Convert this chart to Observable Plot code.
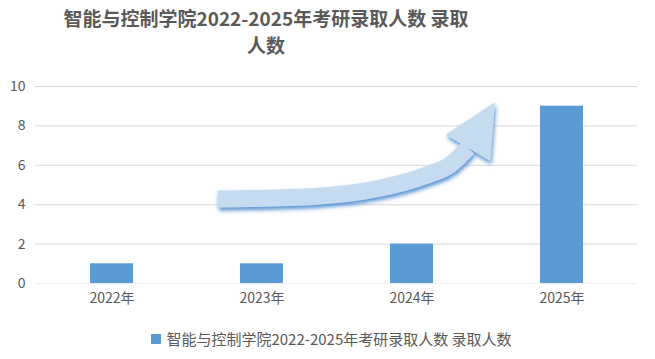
<!DOCTYPE html>
<html>
<head>
<meta charset="utf-8">
<script src="https://cdn.jsdelivr.net/npm/d3@7"></script>
<script src="https://cdn.jsdelivr.net/npm/@observablehq/plot@0.6"></script>
<style>
  html, body { margin: 0; padding: 0; background: #fff; }
  #wrap { width: 655px; height: 359px; position: relative; overflow: hidden; font-family: "Noto Sans CJK SC", "Noto Sans", sans-serif; }
  #title { width: 532px; padding-top: 4px; height: 54px; text-align: center; font-size: 19px; line-height: 27px; font-weight: bold; color: #595959; }
  #chart svg { display: block; }
  #legend { height: 41px; display: flex; justify-content: center; align-items: center; padding-left: 8px; box-sizing: border-box; font-size: 15px; color: #595959; }
  #legend .sw { width: 10px; height: 10px; background: #5b9bd5; margin-right: 5px; }
</style>
</head>
<body>
<div id="wrap">
  <div id="title"></div>
  <div id="chart"></div>
  <div id="legend"><span class="sw"></span><span id="legtext"></span></div>
</div>
<script>
const titleLine1 = "智能与控制学院2022-2025年考研录取人数 录取";
const titleLine2 = "人数";
const seriesName = "智能与控制学院2022-2025年考研录取人数 录取人数";
const years = ["2022年", "2023年", "2024年", "2025年"];
const admitted = [1, 1, 2, 9];
const yTicks = [0, 2, 4, 6, 8, 10];
// decorative arrow centreline, in (category index, value) units
const arrowIdx = [0.709, 1.327, 1.772, 2.105, 2.257, 2.377];
const arrowVal = [4.264, 4.381, 4.782, 5.482, 5.990, 6.853];
const arrowTip = {idx: 2.556, val: 9.17};

document.getElementById("title").innerHTML = titleLine1 + "<br>" + titleLine2;
document.getElementById("legtext").textContent = seriesName;

const data = years.map((year, i) => ({year, value: admitted[i]}));

function arrowMark(index, scales, values, dimensions) {
  const {x, y} = scales;
  const step = x(years[1]) - x(years[0]);
  const bw = typeof x.bandwidth === "function" ? x.bandwidth() : (x.bandwidth ?? 0);
  const px = (i) => x(years[0]) + bw / 2 + i * step;
  const pts = arrowIdx.map((i, k) => [px(i), y(arrowVal[k])]);
  const tip = [px(arrowTip.idx), y(arrowTip.val)];
  const base = pts[pts.length - 1];
  const dx = tip[0] - base[0], dy = tip[1] - base[1];
  const len = Math.hypot(dx, dy);
  const nx = -dy / len, ny = dx / len;
  const hw = 26;
  const g = d3.create("svg:g");
  const f = g.append("defs").append("filter").attr("id", "arrowShadow")
    .attr("x", "-20%").attr("y", "-20%").attr("width", "140%").attr("height", "140%");
  f.append("feDropShadow").attr("dx", 1).attr("dy", 3).attr("stdDeviation", 2)
    .attr("flood-color", "#4a8bd0").attr("flood-opacity", 0.95);
  const a = g.append("g").attr("filter", "url(#arrowShadow)");
  a.append("path")
    .attr("d", d3.line().curve(d3.curveMonotoneX)(pts))
    .attr("fill", "none").attr("stroke", "#c5dcf0").attr("stroke-width", 17)
    .attr("stroke-linecap", "butt");
  a.append("path")
    .attr("d", `M${tip[0]},${tip[1]}L${base[0] + nx * hw},${base[1] + ny * hw}L${base[0] - nx * hw},${base[1] - ny * hw}Z`)
    .attr("fill", "#c5dcf0");
  return g.node();
}

const chart = Plot.plot({
  width: 655,
  height: 260,
  marginLeft: 35,
  marginRight: 18,
  marginTop: 28,
  marginBottom: 35,
  style: {fontFamily: "'Noto Sans CJK SC', 'Noto Sans', sans-serif", fontSize: "14px", color: "#595959", background: "#fff"},
  x: {domain: years, paddingInner: 0.714, paddingOuter: 0.357, label: null, tickSize: 0, tickPadding: 10},
  y: {domain: [0, 10], ticks: yTicks, label: null, tickSize: 0, tickPadding: 10},
  marks: [
    Plot.ruleY(yTicks.filter(d => d > 0), {stroke: "#d9d9d9", strokeWidth: 1}),
    Plot.ruleY([0], {stroke: "#efefef", strokeWidth: 1}),
    Plot.barY(data, {x: "year", y: "value", fill: "#5b9bd5"}),
    arrowMark
  ]
});
document.getElementById("chart").appendChild(chart);
</script>
</body>
</html>
